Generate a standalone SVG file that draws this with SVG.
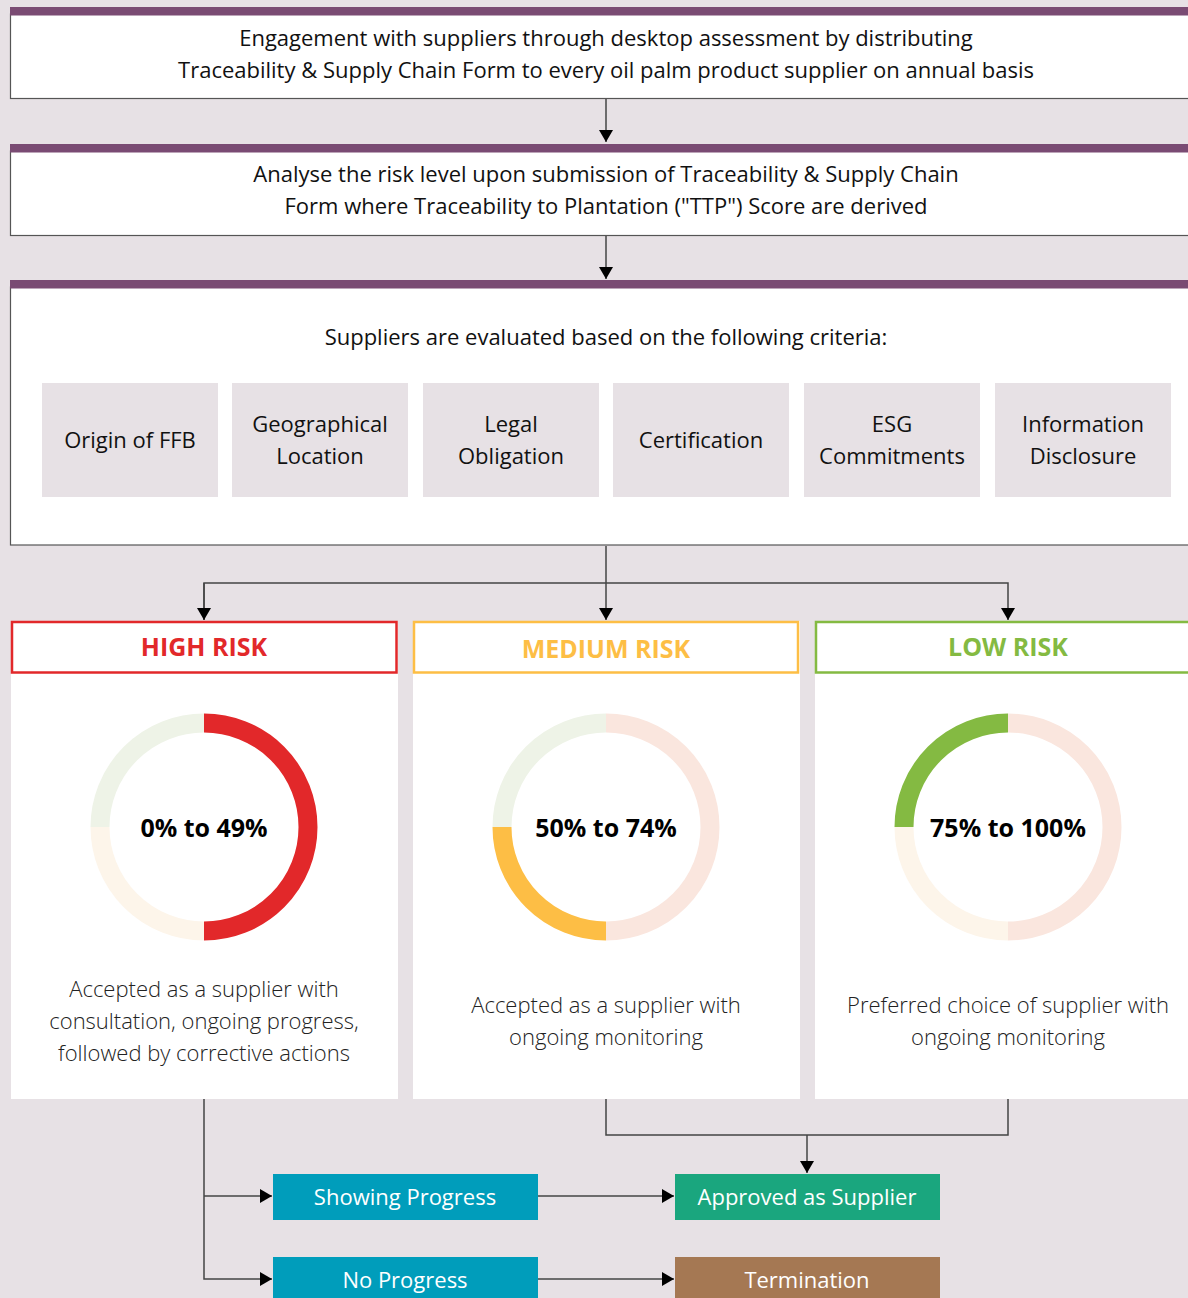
<svg xmlns="http://www.w3.org/2000/svg" width="1188" height="1298" viewBox="0 0 1188 1298">
<defs>
<style>
.t{font-family:"Open Sans",Lato,"Liberation Sans",sans-serif;fill:#111;text-anchor:middle}
.m{font-size:22px}
.d{font-size:22px;font-weight:300;fill:#222}
.h{font-size:25px;font-weight:700}
.w{font-size:22px;fill:#fff}
.pc{font-size:25px;font-weight:700;fill:#000}
.box{fill:#fff;stroke:#555;stroke-width:1.2}
.bar{fill:#7A4B73}
.crit{fill:#E7E1E5}
.ln{fill:none;stroke:#444;stroke-width:1.5}
.ring{fill:none;stroke-width:19}
</style>
<marker id="ah" viewBox="0 0 12 14" refX="12" refY="7" markerWidth="12" markerHeight="14" markerUnits="userSpaceOnUse" orient="auto">
<path d="M0,0 L12,7 L0,14 Z" fill="#000"/>
</marker>
</defs>
<rect width="1188" height="1298" fill="#E7E1E5"/>

<g id="step1">
<rect class="box" x="10.5" y="14" width="1200" height="84.5"/>
<rect class="bar" x="10" y="7" width="1190" height="8.5"/>
<text class="t m" x="606" y="46">Engagement with suppliers through desktop assessment by distributing</text>
<text class="t m" x="606" y="78">Traceability &amp; Supply Chain Form to every oil palm product supplier on annual basis</text>
</g>

<g id="step2">
<rect class="box" x="10.5" y="151" width="1200" height="84.5"/>
<rect class="bar" x="10" y="144" width="1190" height="8.5"/>
<text class="t m" x="606" y="182">Analyse the risk level upon submission of Traceability &amp; Supply Chain</text>
<text class="t m" x="606" y="214">Form where Traceability to Plantation ("TTP") Score are derived</text>
</g>

<g id="step3">
<rect class="box" x="10.5" y="287" width="1200" height="258"/>
<rect class="bar" x="10" y="280" width="1190" height="8.5"/>
<text class="t m" x="606" y="345">Suppliers are evaluated based on the following criteria:</text>
</g>

<g id="crit1"><rect class="crit" x="42" y="383" width="176" height="114"/><text class="t m" x="130" y="448">Origin of FFB</text></g>
<g id="crit2"><rect class="crit" x="232" y="383" width="176" height="114"/><text class="t m" x="320" y="432">Geographical</text><text class="t m" x="320" y="464">Location</text></g>
<g id="crit3"><rect class="crit" x="423" y="383" width="176" height="114"/><text class="t m" x="511" y="432">Legal</text><text class="t m" x="511" y="464">Obligation</text></g>
<g id="crit4"><rect class="crit" x="613" y="383" width="176" height="114"/><text class="t m" x="701" y="448">Certification</text></g>
<g id="crit5"><rect class="crit" x="804" y="383" width="176" height="114"/><text class="t m" x="892" y="432">ESG</text><text class="t m" x="892" y="464">Commitments</text></g>
<g id="crit6"><rect class="crit" x="995" y="383" width="176" height="114"/><text class="t m" x="1083" y="432">Information</text><text class="t m" x="1083" y="464">Disclosure</text></g>

<g id="high">
<rect x="11" y="621" width="387" height="478" fill="#fff"/>
<rect x="12" y="622" width="384.5" height="50.5" fill="#fff" stroke="#E2282A" stroke-width="2.5"/>
<text class="t h" x="204" y="656" style="fill:#E2282A">HIGH RISK</text>
<path class="ring" d="M204,723 A104,104 0 0 0 100,827" stroke="#EEF3E7"/>
<path class="ring" d="M100,827 A104,104 0 0 0 204,931" stroke="#FDF5EA"/>
<path class="ring" d="M204,723 A104,104 0 0 1 204,931" stroke="#E2282A"/>
<text class="t pc" x="204" y="837">0% to 49%</text>
<text class="t d" x="204" y="997">Accepted as a supplier with</text>
<text class="t d" x="204" y="1029">consultation, ongoing progress,</text>
<text class="t d" x="204" y="1061">followed by corrective actions</text>
</g>

<g id="medium">
<rect x="413" y="621" width="387" height="478" fill="#fff"/>
<rect x="414" y="622" width="384" height="50.5" fill="#fff" stroke="#FDBE45" stroke-width="2.5"/>
<text class="t h" x="606" y="658" style="fill:#FDBE45">MEDIUM RISK</text>
<path class="ring" d="M606,723 A104,104 0 0 0 502,827" stroke="#EEF3E7"/>
<path class="ring" d="M502,827 A104,104 0 0 0 606,931" stroke="#FDBE45"/>
<path class="ring" d="M606,723 A104,104 0 0 1 606,931" stroke="#FAE6DE"/>
<text class="t pc" x="606" y="837">50% to 74%</text>
<text class="t d" x="606" y="1013">Accepted as a supplier with</text>
<text class="t d" x="606" y="1045">ongoing monitoring</text>
</g>

<g id="low">
<rect x="815" y="621" width="380" height="478" fill="#fff"/>
<rect x="816" y="622" width="380" height="50.5" fill="#fff" stroke="#84BA42" stroke-width="2.5"/>
<text class="t h" x="1008" y="656" style="fill:#84BA42">LOW RISK</text>
<path class="ring" d="M1008,723 A104,104 0 0 0 904,827" stroke="#84BA42"/>
<path class="ring" d="M904,827 A104,104 0 0 0 1008,931" stroke="#FDF5EA"/>
<path class="ring" d="M1008,723 A104,104 0 0 1 1008,931" stroke="#FAE6DE"/>
<text class="t pc" x="1008" y="837">75% to 100%</text>
<text class="t d" x="1008" y="1013">Preferred choice of supplier with</text>
<text class="t d" x="1008" y="1045">ongoing monitoring</text>
</g>

<g id="showing"><rect x="273" y="1174" width="265" height="46" fill="#009DBB"/><text class="t w" x="405" y="1205">Showing Progress</text></g>
<g id="noprog"><rect x="273" y="1257" width="265" height="46" fill="#009DBB"/><text class="t w" x="405" y="1288">No Progress</text></g>
<g id="approved"><rect x="675" y="1174" width="265" height="46" fill="#1AA67E"/><text class="t w" x="807" y="1205">Approved as Supplier</text></g>
<g id="termination"><rect x="675" y="1257" width="265" height="46" fill="#A57853"/><text class="t w" x="807" y="1288">Termination</text></g>

<g id="connectors">
<path class="ln" d="M606,99 V142" marker-end="url(#ah)"/>
<path class="ln" d="M606,236 V279" marker-end="url(#ah)"/>
<path class="ln" d="M606,546 V620" marker-end="url(#ah)"/>
<path class="ln" d="M204,620 V583 H1008 V620" marker-end="url(#ah)"/>
<path class="ln" d="M204,583 V620" marker-end="url(#ah)"/>
<path class="ln" d="M204,1099 V1279 H272" marker-end="url(#ah)"/>
<path class="ln" d="M204,1196 H272" marker-end="url(#ah)"/>
<path class="ln" d="M538,1196 H674" marker-end="url(#ah)"/>
<path class="ln" d="M538,1279 H674" marker-end="url(#ah)"/>
<path class="ln" d="M606,1099 V1135 H1008 V1099"/>
<path class="ln" d="M807,1135 V1173" marker-end="url(#ah)"/>
</g>
</svg>
